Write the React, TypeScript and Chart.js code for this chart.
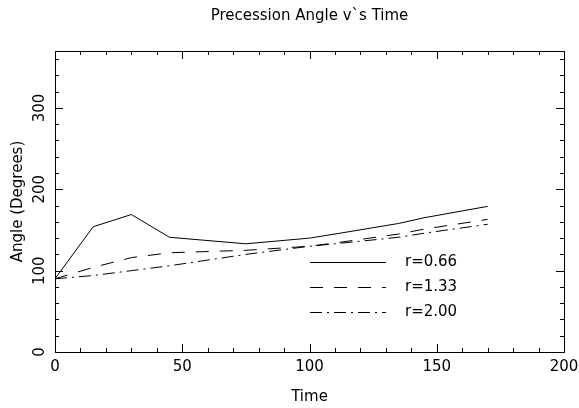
import React, { useEffect, useRef } from "react";
import { Chart, registerables } from "chart.js";

Chart.register(...registerables);

const timeValues = [0, 15, 30, 45, 75, 100, 110, 135, 145, 170];
const angleR066 = [90, 154, 169, 141, 133, 140, 145, 158, 165, 179];
const angleR133 = [90, 104, 116, 122, 125, 130, 134, 145, 151, 163];
const angleR200 = [90, 94, 100, 106, 120, 130, 133, 141, 146, 157];
const seriesLabels = ["r=0.66", "r=1.33", "r=2.00"];
const xTickLabels = [0, 50, 100, 150, 200];
const yTickLabels = [0, 100, 200, 300];

const dashes: number[][] = [[], [13, 11], [12, 5, 2, 5]];
const FONT = "'DejaVu Sans', sans-serif";

const decorPlugin = {
  id: "decor",
  afterDraw(chart: any) {
    const ctx = chart.ctx;
    const { left, right, top, bottom } = chart.chartArea;
    const xs = chart.scales.x;
    const ys = chart.scales.y;
    ctx.save();
    ctx.strokeStyle = "#000";
    ctx.lineWidth = 1;
    ctx.setLineDash([]);
    // frame
    ctx.strokeRect(Math.round(left) + 0.5, Math.round(top) + 0.5, Math.round(right - left), Math.round(bottom - top));
    // x ticks
    for (let v = 0; v <= 200; v += 10) {
      const px = Math.round(xs.getPixelForValue(v)) + 0.5;
      const len = v % 50 === 0 ? 8 : 4;
      ctx.beginPath();
      ctx.moveTo(px, bottom);
      ctx.lineTo(px, bottom - len);
      ctx.moveTo(px, top);
      ctx.lineTo(px, top + len);
      ctx.stroke();
    }
    // y ticks
    for (let v = 0; v <= ys.max; v += 20) {
      const py = Math.round(ys.getPixelForValue(v)) + 0.5;
      const len = v % 100 === 0 ? 8 : 4;
      ctx.beginPath();
      ctx.moveTo(left, py);
      ctx.lineTo(left + len, py);
      ctx.moveTo(right, py);
      ctx.lineTo(right - len, py);
      ctx.stroke();
    }
    ctx.fillStyle = "#000";
    // x tick labels
    ctx.font = `15px ${FONT}`;
    ctx.textAlign = "center";
    ctx.textBaseline = "middle";
    xTickLabels.forEach((v) => {
      ctx.fillText(String(v), xs.getPixelForValue(v), bottom + 15);
    });
    // y tick labels rotated
    yTickLabels.forEach((v) => {
      ctx.save();
      ctx.translate(left - 15, ys.getPixelForValue(v));
      ctx.rotate(-Math.PI / 2);
      ctx.fillText(String(v), 0, 0);
      ctx.restore();
    });
    // titles
    ctx.font = `15px ${FONT}`;
    const cx = (left + right) / 2;
    ctx.fillText("Precession Angle v`s Time", cx, 16);
    ctx.fillText("Time", cx, bottom + 45);
    ctx.save();
    ctx.translate(18, (top + bottom) / 2);
    ctx.rotate(-Math.PI / 2);
    ctx.fillText("Angle (Degrees)", 0, 0);
    ctx.restore();
    // legend
    ctx.font = `15px ${FONT}`;
    ctx.textAlign = "left";
    seriesLabels.forEach((lab, i) => {
      const y = Math.round(bottom - 90 + i * 25) + 0.5;
      const x0 = left + 255;
      ctx.setLineDash(dashes[i]);
      ctx.beginPath();
      ctx.moveTo(x0, y);
      ctx.lineTo(x0 + 76, y);
      ctx.stroke();
      ctx.setLineDash([]);
      ctx.fillText(lab, x0 + 95, y);
    });
    ctx.restore();
  },
};

export default function App() {
  const ref = useRef<HTMLCanvasElement>(null);
  useEffect(() => {
    if (!ref.current) return;
    const series = [angleR066, angleR133, angleR200];
    const chart = new Chart(ref.current, {
      type: "line",
      data: {
        datasets: series.map((s, i) => ({
          label: seriesLabels[i],
          data: timeValues.map((t, j) => ({ x: t, y: s[j] })),
          borderColor: "#000",
          borderWidth: 1,
          borderDash: dashes[i],
          pointRadius: 0,
          fill: false,
          tension: 0,
        })),
      },
      options: {
        animation: false,
        responsive: true,
        maintainAspectRatio: false,
        events: [],
        layout: { padding: { left: 55, right: 15, top: 51, bottom: 56 } },
        plugins: { legend: { display: false }, title: { display: false }, tooltip: { enabled: false } },
        scales: {
          x: {
            type: "linear",
            min: 0,
            max: 200,
            grid: { display: false },
            border: { display: false },
            ticks: { display: false },
            afterFit: (s: any) => { s.height = 0; },
          },
          y: {
            type: "linear",
            min: 0,
            max: 370,
            grid: { display: false },
            border: { display: false },
            ticks: { display: false },
            afterFit: (s: any) => { s.width = 0; },
          },
        },
      },
      plugins: [decorPlugin],
    });
    return () => chart.destroy();
  }, []);
  return (
    <div style={{ position: "fixed", left: 0, top: 0, width: 579, height: 408, background: "#fff" }}>
      <canvas ref={ref} />
    </div>
  );
}
